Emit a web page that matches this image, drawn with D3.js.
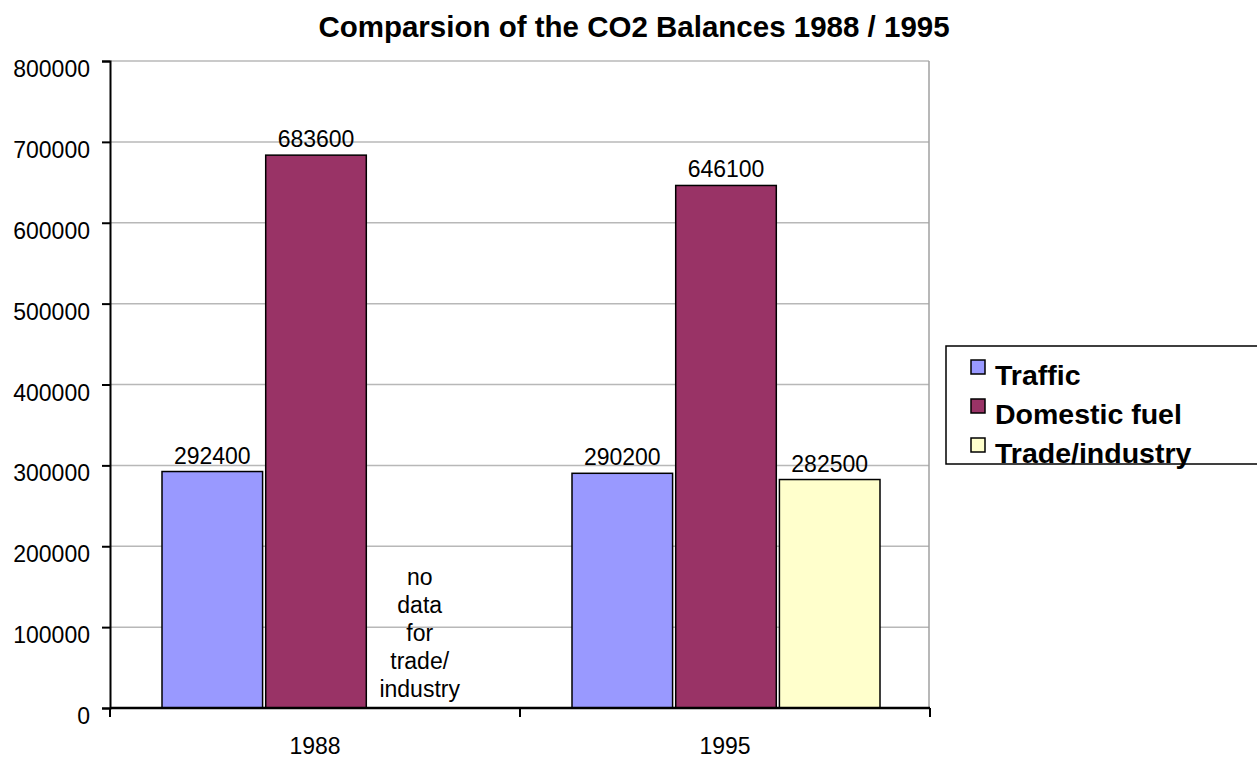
<!DOCTYPE html>
<html>
<head>
<meta charset="utf-8">
<script src="https://cdn.jsdelivr.net/npm/d3@7"></script>
<style>
  html, body { margin: 0; padding: 0; background: #fff; }
  svg { display: block; font-family: "Liberation Sans", Arial, sans-serif; }
</style>
</head>
<body>
<svg id="chart" width="1257" height="760"></svg>
<script>
const title = "Comparsion of the CO2 Balances 1988 / 1995";
const categories = ["1988", "1995"];
const seriesNames = ["Traffic", "Domestic fuel", "Trade/industry"];
const traffic = [292400, 290200];
const domesticFuel = [683600, 646100];
const tradeIndustry = [null, 282500];
const seriesColors = ["#9999FF", "#993366", "#FFFFCC"];
const yTicks = [0, 100000, 200000, 300000, 400000, 500000, 600000, 700000, 800000];
const noDataNote = ["no", "data", "for", "trade/", "industry"];

const seriesValues = [traffic, domesticFuel, tradeIndustry];
const rows = [];
categories.forEach((c, ci) => {
  seriesNames.forEach((s, si) => {
    rows.push({ category: c, series: s, value: seriesValues[si][ci], color: seriesColors[si] });
  });
});

const svg = d3.select("#chart");
const plot = { left: 110, right: 929, top: 61, bottom: 708 };
const labelSize = 23;

const x0 = d3.scaleBand().domain(categories).range([plot.left, plot.right + 1]).padding(0);
const x1 = d3.scaleBand().domain(seriesNames).range([52, 360]).paddingInner(0.03).paddingOuter(0);
const y = d3.scaleLinear().domain([0, 800000]).range([plot.bottom, plot.top]);

// gridlines
svg.append("g")
  .selectAll("line")
  .data(yTicks.filter(d => d > 0))
  .join("line")
  .attr("x1", plot.left).attr("x2", plot.right)
  .attr("y1", d => y(d)).attr("y2", d => y(d))
  .attr("stroke", "#b8b8b8").attr("stroke-width", 1.5);

// right border of plot area
svg.append("line")
  .attr("x1", plot.right).attr("x2", plot.right)
  .attr("y1", plot.top).attr("y2", plot.bottom)
  .attr("stroke", "#a0a0a0").attr("stroke-width", 1.5);

// bars
const groups = svg.append("g").selectAll("g")
  .data(categories)
  .join("g")
  .attr("transform", d => `translate(${x0(d)},0)`);

groups.selectAll("rect")
  .data(c => rows.filter(r => r.category === c && r.value != null))
  .join("rect")
  .attr("x", d => x1(d.series))
  .attr("width", x1.bandwidth())
  .attr("y", d => y(d.value))
  .attr("height", d => y(0) - y(d.value))
  .attr("fill", d => d.color)
  .attr("stroke", "#000")
  .attr("stroke-width", 1.5);

groups.selectAll("text.val")
  .data(c => rows.filter(r => r.category === c && r.value != null))
  .join("text")
  .attr("class", "val")
  .attr("x", d => x1(d.series) + x1.bandwidth() / 2)
  .attr("y", d => y(d.value) - 8)
  .attr("text-anchor", "middle")
  .attr("font-size", labelSize)
  .attr("fill", "#000")
  .text(d => d.value);

// no-data note
const noteX = x0("1988") + x1("Trade/industry") + x1.bandwidth() / 2;
svg.append("g").selectAll("text")
  .data(noDataNote)
  .join("text")
  .attr("x", noteX)
  .attr("y", (d, i) => y(0) - 11 - (noDataNote.length - 1 - i) * 28)
  .attr("text-anchor", "middle")
  .attr("font-size", labelSize)
  .attr("fill", "#000")
  .text(d => d);

// y axis
const yAxis = d3.axisLeft(y).tickValues(yTicks).tickSize(8).tickFormat(d3.format("d"));
const gy = svg.append("g").attr("transform", `translate(${plot.left},0)`).call(yAxis);
gy.select(".domain").attr("stroke", "#000").attr("stroke-width", 2);
gy.selectAll(".tick line").attr("stroke", "#000").attr("stroke-width", 2);
gy.selectAll(".tick text")
  .attr("font-size", labelSize)
  .attr("font-family", "'Liberation Sans', Arial, sans-serif")
  .attr("fill", "#000")
  .attr("x", -20)
  .attr("dy", "0.72em")
  .attr("y", -1);

// x axis
const gx = svg.append("g").attr("transform", `translate(0,${plot.bottom})`);
gx.append("line")
  .attr("x1", plot.left).attr("x2", plot.right + 1)
  .attr("y1", 0).attr("y2", 0)
  .attr("stroke", "#000").attr("stroke-width", 2.5);
const xTickPos = categories.map(c => x0(c)).concat([x0(categories[categories.length - 1]) + x0.bandwidth()]);
gx.selectAll("line.tk")
  .data(xTickPos)
  .join("line")
  .attr("class", "tk")
  .attr("x1", d => d).attr("x2", d => d)
  .attr("y1", 0).attr("y2", 9)
  .attr("stroke", "#000").attr("stroke-width", 2);
gx.selectAll("text")
  .data(categories)
  .join("text")
  .attr("x", d => x0(d) + x0.bandwidth() / 2)
  .attr("y", 46)
  .attr("text-anchor", "middle")
  .attr("font-size", labelSize)
  .attr("fill", "#000")
  .text(d => d);

// title
svg.append("text")
  .attr("x", 634)
  .attr("y", 37)
  .attr("text-anchor", "middle")
  .attr("font-size", 29.5)
  .attr("font-weight", "bold")
  .attr("fill", "#000")
  .text(title);

// legend
const legend = svg.append("g").attr("transform", "translate(946,346)");
legend.append("rect")
  .attr("x", 0).attr("y", 0)
  .attr("width", 330).attr("height", 118)
  .attr("fill", "#fff")
  .attr("stroke", "#000").attr("stroke-width", 1.5);
const li = legend.selectAll("g.item")
  .data(seriesNames)
  .join("g")
  .attr("class", "item")
  .attr("transform", (d, i) => `translate(0,${i * 39})`);
li.append("rect")
  .attr("x", 25).attr("y", 14)
  .attr("width", 14).attr("height", 14)
  .attr("fill", (d, i) => seriesColors[i])
  .attr("stroke", "#000").attr("stroke-width", 1.5);
li.append("text")
  .attr("x", 49).attr("y", 39)
  .attr("font-size", 28.5)
  .attr("font-weight", "bold")
  .attr("fill", "#000")
  .text(d => d);
</script>
</body>
</html>
